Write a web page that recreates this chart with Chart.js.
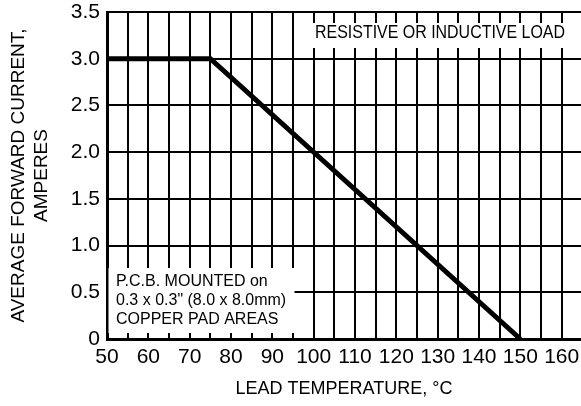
<!DOCTYPE html>
<html><head><meta charset="utf-8">
<script src="https://cdn.jsdelivr.net/npm/chart.js@4/dist/chart.umd.min.js"></script>
<style>html,body{margin:0;padding:0;background:#fff;overflow:hidden}canvas{display:block}</style>
</head><body>
<canvas id="c" width="581" height="406"></canvas>
<script>
// ---- data ----
const leadTempC = [50, 75, 150];
const avgCurrentA = [3.0, 3.0, 0.0];
const xGridTicks = [50,55,60,65,70,75,80,85,90,95,100,105,110,115,120,125,130,135,140,145,150,155,160];
const xLabelTicks = [50,60,70,80,90,100,110,120,130,140,150,160];
const yGridTicks = [0,0.5,1.0,1.5,2.0,2.5,3.0,3.5];
const yTickLabels = ['0','0.5','1.0','1.5','2.0','2.5','3.0','3.5'];
const xTitle = 'LEAD TEMPERATURE, °C';
const yTitle = ['AVERAGE FORWARD CURRENT,', 'AMPERES'];
const noteTop = 'RESISTIVE OR INDUCTIVE LOAD';
const noteBottom = ['P.C.B. MOUNTED on', '0.3 x 0.3" (8.0 x 8.0mm)', 'COPPER PAD AREAS'];

const FONT = "'Liberation Sans', Arial, Helvetica, sans-serif";

const notesPlugin = {
  id: 'notes',
  beforeDatasetsDraw(chart) {
    const ctx = chart.ctx;
    ctx.save();
    ctx.fillStyle = '#fff';
    ctx.fillRect(311, 23, 270, 25);
    ctx.fillRect(108.5, 268, 186, 65);
    ctx.fillStyle = '#000';
    ctx.textBaseline = 'middle';
    ctx.textAlign = 'left';
    ctx.font = '17.5px ' + FONT;
    ctx.fillText(noteTop, 315, 33.5, 250);
    ctx.font = '16px ' + FONT;
    const ys = [281.7, 300.4, 319.4];
    noteBottom.forEach((t, i) => ctx.fillText(t, 116, ys[i]));
    ctx.restore();
  }
};

new Chart(document.getElementById('c'), {
  type: 'line',
  data: {
    datasets: [{
      data: leadTempC.map((x, i) => ({x, y: avgCurrentA[i]})),
      borderColor: '#000',
      borderWidth: 5,
      pointRadius: 0,
      tension: 0,
      fill: false,
      borderCapStyle: 'butt',
      borderJoinStyle: 'miter'
    }]
  },
  options: {
    responsive: false,
    animation: false,
    devicePixelRatio: 1,
    layout: {padding: 0},
    plugins: {legend: {display: false}, tooltip: {enabled: false}},
    scales: {
      x: {
        type: 'linear',
        min: 50,
        max: 164.67,
        afterBuildTicks: s => { s.ticks = xGridTicks.map(v => ({value: v})); },
        afterFit: s => { s.height = 67; s.paddingLeft = 0; s.paddingRight = 0; },
        grid: {color: '#000', lineWidth: 2, drawTicks: false},
        border: {color: '#000', width: 3},
        ticks: {
          autoSkip: false, maxRotation: 0, padding: 6, color: '#000',
          font: {family: FONT, size: 21},
          callback: v => xLabelTicks.includes(v) ? String(v) : ''
        },
        title: {display: true, text: xTitle, color: '#000',
          font: {family: FONT, size: 18, lineHeight: 1.2}, padding: {top: 0, bottom: 6}}
      },
      y: {
        type: 'linear',
        min: 0,
        max: 3.5,
        afterBuildTicks: s => { s.ticks = yGridTicks.map(v => ({value: v})); },
        afterFit: s => { s.width = 107; s.paddingTop = 12; s.paddingBottom = 0; },
        grid: {color: '#000', lineWidth: 2, drawTicks: false},
        border: {color: '#000', width: 3},
        ticks: {
          autoSkip: false, padding: 7, color: '#000',
          font: {family: FONT, size: 21},
          callback: v => yTickLabels[yGridTicks.indexOf(v)]
        },
        title: {display: true, text: yTitle, color: '#000',
          font: {family: FONT, size: 19, lineHeight: 1.21}, padding: {top: 7, bottom: 0}}
      }
    }
  },
  plugins: [notesPlugin]
});
</script>
</body></html>
